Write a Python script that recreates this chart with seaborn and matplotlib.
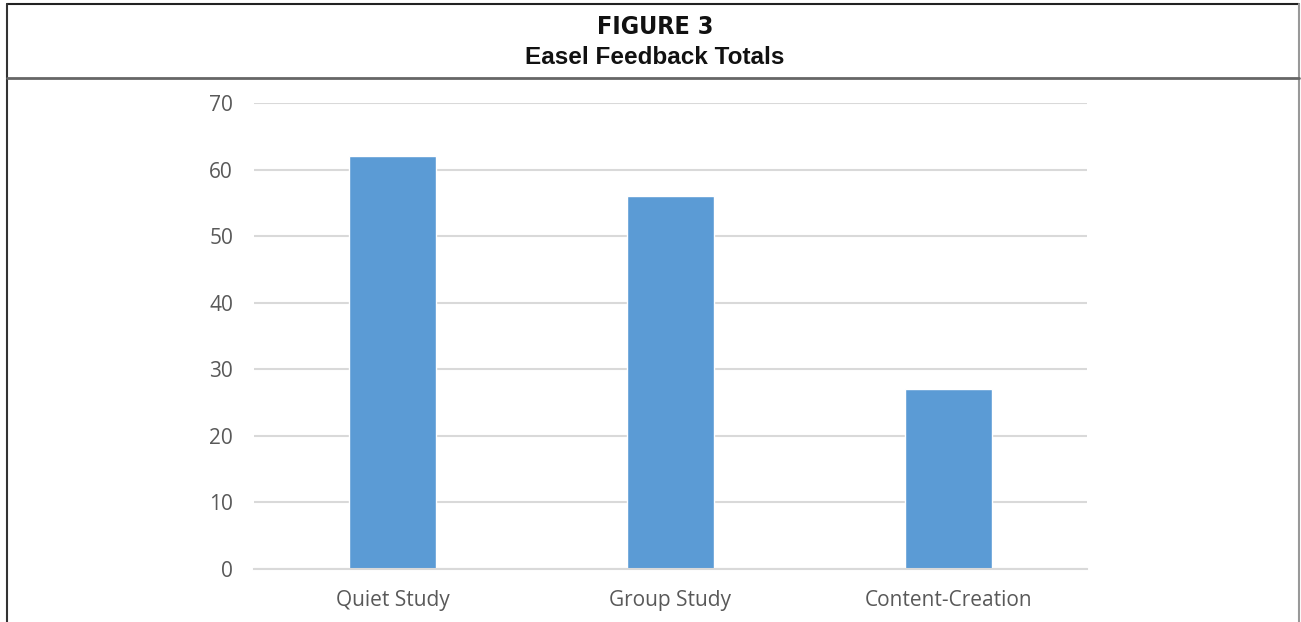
import matplotlib
matplotlib.use("Agg")
import matplotlib.pyplot as plt
import seaborn as sns
import pandas as pd
from matplotlib.lines import Line2D

categories = ["Quiet Study", "Group Study", "Content-Creation"]
values = [62, 56, 27]
yticks = [0, 10, 20, 30, 40, 50, 60, 70]

sns.set_theme(style="white")
plt.rcParams['font.family'] = ['Open Sans', 'DejaVu Sans']

fig = plt.figure(figsize=(13.01, 6.22), dpi=100)
ax = fig.add_axes([0.1952, 0.0852, 0.6403, 0.7492])

df = pd.DataFrame({"cat": categories, "val": values})
sns.barplot(data=df, x="cat", y="val", color="#5b9bd5", saturation=1,
            width=0.313, ax=ax)

ax.set_ylim(0, 70)
ax.set_xlim(-0.5, 2.5)
ax.set_yticks(yticks)
ax.set_yticklabels([str(t) for t in yticks])
ax.yaxis.grid(True, color="#d9d9d9", linewidth=1.5)
ax.set_axisbelow(True)
for s in ["top", "right", "left"]:
    ax.spines[s].set_visible(False)
ax.spines["bottom"].set_color("#d9d9d9")
ax.spines["bottom"].set_linewidth(1.5)
ax.set_xlabel("")
ax.set_ylabel("")
ax.tick_params(axis="both", length=0, labelsize=15, colors="#595959")
ax.tick_params(axis="y", pad=15)
ax.tick_params(axis="x", pad=15)

# frame and header
fig.add_artist(Line2D([0.005, 0.9988], [0.9928, 0.9928], color="#222222", lw=1.5, transform=fig.transFigure))
fig.add_artist(Line2D([0.005, 0.005], [0.0, 0.9928], color="#333333", lw=1.5, transform=fig.transFigure))
fig.add_artist(Line2D([0.9988, 0.9988], [0.0, 0.9928], color="#999999", lw=1.5, transform=fig.transFigure))
fig.add_artist(Line2D([0.005, 0.9988], [0.8746, 0.8746], color="#666666", lw=2, transform=fig.transFigure))

fig.text(0.5035, 0.956, "FIGURE 3", ha="center", va="center", fontsize=18,
         fontweight="heavy", fontstretch="condensed", family=["DejaVu Sans"], color="#111111")
fig.text(0.5035, 0.907, "Easel Feedback Totals", ha="center", va="center", fontsize=17.5,
         fontweight="bold", family=["Liberation Sans"], color="#111111")

fig.savefig("out.png", dpi=100)
